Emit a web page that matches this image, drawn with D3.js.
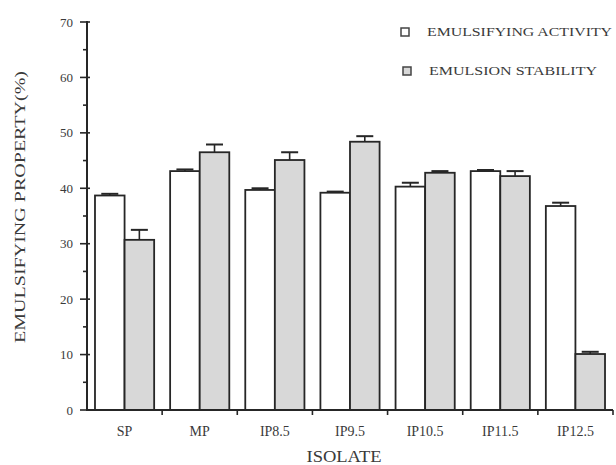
<!DOCTYPE html>
<html>
<head>
<meta charset="utf-8">
<script src="https://cdn.jsdelivr.net/npm/d3@7"></script>
<style>
  html, body { margin: 0; padding: 0; background: #fff; }
  svg { display: block; }
  text { font-family: "Liberation Serif", "Times New Roman", serif; fill: #3a3a3a; }
</style>
</head>
<body>
<script>
// Emulsifying properties of protein isolates
const categories = ["SP", "MP", "IP8.5", "IP9.5", "IP10.5", "IP11.5", "IP12.5"];
const activity = [38.7, 43.1, 39.7, 39.2, 40.3, 43.1, 36.8];
const activityErr = [0.3, 0.3, 0.3, 0.2, 0.7, 0.2, 0.6];
const stability = [30.7, 46.5, 45.1, 48.4, 42.8, 42.2, 10.1];
const stabilityErr = [1.8, 1.4, 1.4, 1.0, 0.3, 0.9, 0.4];
const majorTicks = [0, 10, 20, 30, 40, 50, 60, 70];
const minorTicks = [5, 15, 25, 35, 45, 55, 65];
const seriesNames = ["EMULSIFYING ACTIVITY", "EMULSION STABILITY"];

const W = 616, H = 465;
const margin = { left: 87, right: 3, top: 22, bottom: 55 };
const colors = { activity: "#ffffff", stability: "#d8d8d8" };
const ink = "#262626";

const svg = d3.select("body").append("svg").attr("width", W).attr("height", H);

const x = d3.scaleBand().domain(categories).range([margin.left, W - margin.right]).padding(0);
const xs = d3.scaleBand().domain(["activity", "stability"]).range([0, x.bandwidth()])
  .paddingInner(0).paddingOuter(0.27);
const y = d3.scaleLinear().domain([0, 70]).range([H - margin.bottom, margin.top]);

const rows = categories.map((c, i) => ({
  cat: c,
  bars: [
    { key: "activity", v: activity[i], e: activityErr[i] },
    { key: "stability", v: stability[i], e: stabilityErr[i] }
  ]
}));

// bars
const groups = svg.append("g").selectAll("g").data(rows).join("g")
  .attr("transform", d => `translate(${x(d.cat)},0)`);

groups.selectAll("rect").data(d => d.bars).join("rect")
  .attr("x", d => xs(d.key))
  .attr("y", d => y(d.v))
  .attr("width", xs.bandwidth())
  .attr("height", d => y(0) - y(d.v))
  .attr("fill", d => colors[d.key])
  .attr("stroke", ink)
  .attr("stroke-width", 1.8);

// error bars
const capW = 17;
const err = groups.selectAll("g.err").data(d => d.bars).join("g").attr("class", "err");
err.append("line")
  .attr("x1", d => xs(d.key) + xs.bandwidth() / 2)
  .attr("x2", d => xs(d.key) + xs.bandwidth() / 2)
  .attr("y1", d => y(d.v))
  .attr("y2", d => y(d.v + d.e))
  .attr("stroke", ink).attr("stroke-width", 1.6);
err.append("line")
  .attr("x1", d => xs(d.key) + xs.bandwidth() / 2 - capW / 2)
  .attr("x2", d => xs(d.key) + xs.bandwidth() / 2 + capW / 2)
  .attr("y1", d => y(d.v + d.e))
  .attr("y2", d => y(d.v + d.e))
  .attr("stroke", ink).attr("stroke-width", 2);

// y axis
const yAxis = svg.append("g");
yAxis.append("line")
  .attr("x1", margin.left).attr("x2", margin.left)
  .attr("y1", y(70) - 1).attr("y2", y(0) + 1)
  .attr("stroke", ink).attr("stroke-width", 2);
yAxis.selectAll("line.major").data(majorTicks).join("line").attr("class", "major")
  .attr("x1", margin.left - 7).attr("x2", margin.left + 3)
  .attr("y1", d => y(d)).attr("y2", d => y(d))
  .attr("stroke", ink).attr("stroke-width", 1.6);
yAxis.selectAll("line.minor").data(minorTicks).join("line").attr("class", "minor")
  .attr("x1", margin.left - 4).attr("x2", margin.left + 1)
  .attr("y1", d => y(d)).attr("y2", d => y(d))
  .attr("stroke", ink).attr("stroke-width", 1.6);
yAxis.selectAll("text").data(majorTicks).join("text")
  .attr("x", margin.left - 14).attr("y", d => y(d))
  .attr("dy", "0.35em").attr("text-anchor", "end")
  .attr("font-size", 13)
  .text(d => d);

// x axis
const xAxis = svg.append("g");
xAxis.append("line")
  .attr("x1", margin.left).attr("x2", W - margin.right)
  .attr("y1", y(0)).attr("y2", y(0))
  .attr("stroke", ink).attr("stroke-width", 2);
xAxis.selectAll("line.tick").data(categories).join("line").attr("class", "tick")
  .attr("x1", d => x(d) + x.bandwidth()).attr("x2", d => x(d) + x.bandwidth())
  .attr("y1", y(0)).attr("y2", y(0) + 5)
  .attr("stroke", ink).attr("stroke-width", 1.6);
xAxis.selectAll("text").data(categories).join("text")
  .attr("x", d => x(d) + x.bandwidth() / 2).attr("y", y(0) + 26)
  .attr("text-anchor", "middle").attr("font-size", 14)
  .text(d => d);

// axis titles
svg.append("text")
  .attr("x", 344).attr("y", 462)
  .attr("text-anchor", "middle").attr("font-size", 16)
  .attr("textLength", 75).attr("lengthAdjust", "spacingAndGlyphs")
  .text("ISOLATE");
svg.append("text")
  .attr("transform", "translate(25,207) rotate(-90)")
  .attr("text-anchor", "middle").attr("font-size", 14)
  .attr("textLength", 272).attr("lengthAdjust", "spacingAndGlyphs")
  .text("EMULSIFYING PROPERTY(%)");

// legend
const legend = svg.append("g").selectAll("g").data(seriesNames).join("g")
  .attr("transform", (d, i) => `translate(${401 + i * 2},${32 + i * 39})`);
legend.append("rect")
  .attr("x", 0).attr("y", -4).attr("width", 8).attr("height", 8)
  .attr("fill", (d, i) => i === 0 ? colors.activity : colors.stability)
  .attr("stroke", "#444").attr("stroke-width", 1.5);
legend.append("text")
  .attr("x", 26).attr("y", 0).attr("dy", "0.35em")
  .attr("font-size", 12)
  .attr("textLength", (d, i) => i === 0 ? 185 : 168)
  .attr("lengthAdjust", "spacingAndGlyphs")
  .text(d => d);
</script>
</body>
</html>
